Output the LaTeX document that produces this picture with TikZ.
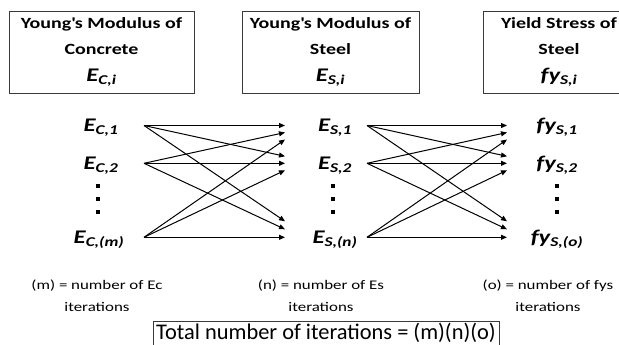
\documentclass[tikz,border=0pt]{standalone}
\usepackage{fontspec}
\setmainfont{Carlito}
\newfontfamily\widefont{Carlito}[FakeStretch=1.28]
\usetikzlibrary{arrows.meta}
\definecolor{boxline}{HTML}{3A3A3A}
\newcommand{\varsym}[2]{{\widefont\fontsize{19.3}{22}\selectfont\bfseries\itshape #1\textsubscript{#2}}}

\begin{document}
\begin{tikzpicture}[
  x=1pt,y=-1pt,
  head/.style={draw=boxline,line width=0.8pt,align=center,minimum height=82pt,
               inner sep=4pt,font=\widefont\fontsize{15.6}{25.5}\selectfont\bfseries},
  qty/.style={text height=12.4pt,text depth=0pt,inner sep=0pt},
  dot/.style={fill=black,minimum size=3.6pt,inner sep=0pt},
  note/.style={font=\widefont\fontsize{13.2}{22}\selectfont,align=center},
  total/.style={draw=boxline,line width=0.8pt,font=\fontsize{22.4}{24}\selectfont,
                text height=14.5pt,text depth=12pt,inner xsep=3pt,inner ysep=4pt,
                minimum width=346pt,anchor=north},
  arr/.style={-{Triangle[length=6pt,width=5pt]},line width=1pt}
]
\useasboundingbox (0,0) rectangle (619,345);
\clip (0,0) rectangle (619,345);

% the three header boxes
\node[head,minimum width=185pt] (hc) at (101.5,52)
  {Young\textquotesingle s Modulus of\\ Concrete\\[2pt] \varsym{E}{C,i}};
\node[head,minimum width=177pt] (hs) at (330.5,52)
  {Young\textquotesingle s Modulus of\\ Steel\\[2pt] \varsym{E}{S,i}};
\node[head,minimum width=152pt] (hy) at (559,52)
  {Yield Stress of\\ Steel\\[2pt] \varsym{fy}{S,i}};

% column 1: concrete moduli
\node[qty] (c1) at (101,125.5) {\varsym{E}{C,1}};
\node[qty] (c2) at (101,163.3) {\varsym{E}{C,2}};
\node[qty] (cm) at (99,237.3) {\varsym{E}{C,(m)}};

% column 2: steel moduli
\node[qty] (s1) at (335,125.5) {\varsym{E}{S,1}};
\node[qty] (s2) at (335,163.3) {\varsym{E}{S,2}};
\node[qty] (sn) at (335,237.3) {\varsym{E}{S,(n)}};

% column 3: yield stresses
\node[qty] (y1) at (557,125.5) {\varsym{fy}{S,1}};
\node[qty] (y2) at (557,163.3) {\varsym{fy}{S,2}};
\node[qty] (yo) at (557,237.3) {\varsym{fy}{S,(o)}};

% the vertical dots between row 2 and the last row
\foreach \x/\col in {98/c,333/s,557/y}
  \foreach \y/\k in {186/1,199/2,212/3}
    \node[dot] (d\col\k) at (\x,\y) {};

% notes under each column
\node[note] (nm) at (97,296) {(m) = number of Ec\\ iterations};
\node[note] (nn) at (321,296) {(n) = number of Es\\ iterations};
\node[note] (no) at (548,296) {(o) = number of fys\\ iterations};
\node[total] (tot) at (326,321) {Total number of iterations = (m)(n)(o)};

% every concrete value to every steel value
\draw[arr] ([xshift=43pt]c1.center) -- ([xshift=-50pt]s1.center);
\draw[arr] ([xshift=43pt]c1.center) -- ([xshift=-50pt,yshift=7pt]s2.center);
\draw[arr] ([xshift=43pt]c1.center) -- ([xshift=-50pt,yshift=16pt]sn.center);
\draw[arr] ([xshift=43pt]c2.center) -- ([xshift=-50pt,yshift=-7pt]s1.center);
\draw[arr] ([xshift=43pt]c2.center) -- ([xshift=-50pt]s2.center);
\draw[arr] ([xshift=43pt]c2.center) -- ([xshift=-50pt,yshift=8pt]sn.center);
\draw[arr] ([xshift=45pt]cm.center) -- ([xshift=-50pt,yshift=-14pt]s1.center);
\draw[arr] ([xshift=45pt]cm.center) -- ([xshift=-50pt,yshift=-7pt]s2.center);
\draw[arr] ([xshift=45pt]cm.center) -- ([xshift=-50pt]sn.center);

% every steel value to every yield stress
\draw[arr] ([xshift=32pt]s1.center) -- ([xshift=-50pt]y1.center);
\draw[arr] ([xshift=32pt]s1.center) -- ([xshift=-50pt,yshift=7pt]y2.center);
\draw[arr] ([xshift=32pt]s1.center) -- ([xshift=-50pt,yshift=16pt]yo.center);
\draw[arr] ([xshift=32pt]s2.center) -- ([xshift=-50pt,yshift=-7pt]y1.center);
\draw[arr] ([xshift=32pt]s2.center) -- ([xshift=-50pt]y2.center);
\draw[arr] ([xshift=32pt]s2.center) -- ([xshift=-50pt,yshift=8pt]yo.center);
\draw[arr] ([xshift=32pt]sn.center) -- ([xshift=-50pt,yshift=-14pt]y1.center);
\draw[arr] ([xshift=32pt]sn.center) -- ([xshift=-50pt,yshift=-7pt]y2.center);
\draw[arr] ([xshift=32pt]sn.center) -- ([xshift=-50pt]yo.center);
\end{tikzpicture}
\end{document}
